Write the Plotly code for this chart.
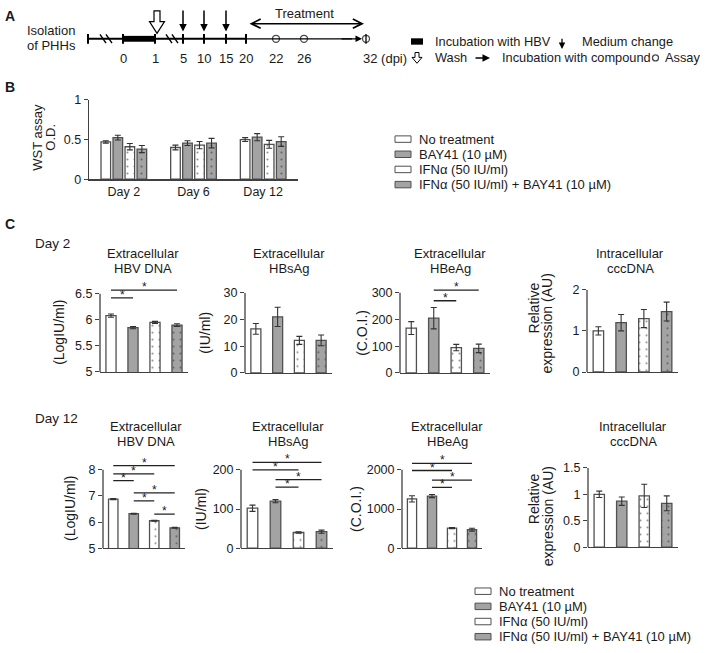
import plotly.graph_objects as go

W, H = 709, 653

# ----------------------------- data -----------------------------
treatments = ["No treatment", "BAY41 (10 µM)", "IFNα (50 IU/ml)",
              "IFNα (50 IU/ml) + BAY41 (10 µM)"]
treatment_fill = ["#ffffff", "#a3a3a3", "#ffffff", "#a3a3a3"]
treatment_dots = [False, False, True, True]

timeline_labels = ["0", "1", "5", "10", "15", "20", "22", "26", "32 (dpi)"]

# Panel B: WST assay (O.D.)
wst_days = ["Day 2", "Day 6", "Day 12"]
wst_no_treatment = [0.47, 0.40, 0.50]
wst_bay41 = [0.525, 0.455, 0.53]
wst_ifn = [0.41, 0.43, 0.44]
wst_ifn_bay41 = [0.38, 0.455, 0.475]
wst_no_treatment_err = [0.015, 0.03, 0.025]
wst_bay41_err = [0.03, 0.03, 0.045]
wst_ifn_err = [0.04, 0.045, 0.05]
wst_ifn_bay41_err = [0.045, 0.06, 0.06]

# Panel C, Day 2
d2_dna = [6.08, 5.85, 5.95, 5.90]
d2_dna_err = [0.03, 0.02, 0.02, 0.025]
d2_dna_sig = [(0, 1, 6.42), (0, 3, 6.57)]
d2_hbsag = [16.5, 21.0, 12.2, 12.2]
d2_hbsag_err = [2.0, 3.6, 1.5, 2.0]
d2_hbsag_sig = []
d2_hbeag = [168, 205, 95, 92]
d2_hbeag_err = [24, 40, 12, 16]
d2_hbeag_sig = [(1, 2, 270), (1, 3, 310)]
d2_ccc = [1.0, 1.2, 1.3, 1.47]
d2_ccc_err = [0.1, 0.2, 0.22, 0.23]
d2_ccc_sig = []

# Panel C, Day 12
d12_dna = [6.88, 6.32, 6.05, 5.78]
d12_dna_err = [0.02, 0.015, 0.02, 0.02]
d12_dna_sig = [(0, 3, 8.16), (0, 2, 7.85), (0, 1, 7.59),
               (1, 3, 7.12), (1, 2, 6.81), (2, 3, 6.30)]
d12_hbsag = [102, 120, 40, 42]
d12_hbsag_err = [8, 4, 2, 4]
d12_hbsag_sig = [(0, 3, 219), (0, 2, 200), (1, 3, 175), (1, 2, 156)]
d12_hbeag = [1260, 1330, 510, 470]
d12_hbeag_err = [80, 40, 15, 40]
d12_hbeag_sig = [(0, 3, 2165), (0, 2, 1983), (1, 3, 1736), (1, 2, 1553)]
d12_ccc = [1.0, 0.87, 0.97, 0.83]
d12_ccc_err = [0.06, 0.08, 0.22, 0.14]
d12_ccc_sig = []

# ----------------------------- style -----------------------------
FONT = "Liberation Sans, Arial, sans-serif"
TXT = "#1a1a1a"
AXC = "#404040"
EDGE = "#505050"

shapes, anns, traces = [], [], []
dot_x, dot_y = [], []


def text_px(x, y, t, size=13, xa="center", ya="middle", angle=0, bold=False):
    anns.append(dict(x=x / W, y=1 - y / H, xref="paper", yref="paper",
                     text=f"<b>{t}</b>" if bold else t, showarrow=False,
                     xanchor=xa, yanchor=ya, textangle=angle,
                     font=dict(family=FONT, size=size, color=TXT)))


# schematic overlay axes (x10/y10) in pixel units
def sline(x0, y0, x1, y1, w=2.0, color="black"):
    shapes.append(dict(type="line", xref="x10", yref="y10", x0=x0, y0=y0,
                       x1=x1, y1=y1, line=dict(color=color, width=w)))


def srect(x0, y0, x1, y1, fill, lc="black", lw=1.0):
    shapes.append(dict(type="rect", xref="x10", yref="y10", x0=x0, y0=y0,
                       x1=x1, y1=y1, fillcolor=fill,
                       line=dict(color=lc, width=lw)))


def spath(path, fill="white", lw=1.2):
    shapes.append(dict(type="path", xref="x10", yref="y10", path=path,
                       fillcolor=fill, line=dict(color="black", width=lw)))


def sarrow(xt, yt, xh, yh, head=2, w=1.5, side="end", size=1.0):
    anns.append(dict(x=xh, y=yh, ax=xt, ay=yt, xref="x10", yref="y10",
                     axref="x10", ayref="y10", text="", showarrow=True,
                     arrowhead=head, arrowsize=size, arrowwidth=w,
                     arrowcolor="black", arrowside=side, startarrowhead=head,
                     startarrowsize=size))


def stext(x, y, t, size=13, xa="center"):
    anns.append(dict(x=x, y=y, xref="x10", yref="y10", text=t,
                     showarrow=False, xanchor=xa, yanchor="middle",
                     font=dict(family=FONT, size=size, color=TXT)))


def bar_marker(i):
    return dict(color=treatment_fill[i], line=dict(color=EDGE, width=1.3),
                pattern=dict(shape="." if treatment_dots[i] else "",
                             fgcolor="#222222", size=7, solidity=0.07,
                             fillmode="overlay"))


layout = dict(width=W, height=H, margin=dict(l=0, r=0, t=0, b=0),
              paper_bgcolor="white", plot_bgcolor="rgba(0,0,0,0)",
              barmode="group", bargap=0.31, bargroupgap=0.2,
              showlegend=False, font=dict(family=FONT, color=TXT))

# ----------------------------- panel A -----------------------------
text_px(3, 9, "A", size=14, xa="left", bold=True)
TY = 32.5
tick_px = [123, 155, 183, 204, 226, 246, 276, 304, 366]
sline(88, TY, 246, TY, 2.0)
sline(246, TY, 352, TY, 1.3)
sarrow(340, TY, 362, TY, head=2, w=1.3)
for x in [88] + tick_px[:6]:
    sline(x, 27.5, x, 37.5, 2.0)
srect(123, 29.5, 155, 35.5, "black", lw=0)
for c in (106, 172):
    for d in (-3, 3):
        sline(c + d - 3, 28, c + d + 3, 37, 1.4)
sline(366, 27.5, 366, 37.5, 1.3)
for lab, x in zip(timeline_labels[:-1], tick_px[:-1]):
    stext(x, 53, lab)
stext(361, 53, timeline_labels[-1], xa="left")
for x in (183, 204, 226):
    sarrow(x, 2, x, 25, head=2, w=1.5)
spath("M154,4 L160,4 L160,15 L164.5,15 L157,27 L149.5,15 L154,15 Z")
sarrow(248, 17, 364, 17, head=5, w=1.5, side="end+start", size=1.2)
stext(304, 6.5, "Treatment")
stext(51, 24, "Isolation")
stext(51, 39, "of PHHs")
# legend of A
srect(411, 32, 423, 38.5, "black", lw=0)
stext(433, 35, "Incubation with HBV", size=12.8, xa="left")
sarrow(562, 31, 562, 43, head=2, w=1.3)
stext(580, 35, "Medium change", size=12.8, xa="left")
spath("M415,46.5 L419,46.5 L419,51.5 L422,51.5 L417,57.5 L412,51.5 L415,51.5 Z", lw=1.0)
stext(433, 52, "Wash", size=12.8, xa="left")
sarrow(474, 52, 490, 52, head=2, w=1.5)
stext(500, 52, "Incubation with compound", size=12.8, xa="left")
stext(663, 52, "Assay", size=12.8, xa="left")
circ_x = tick_px[6:] + [655.5]
circ_y = [TY, TY, TY, 52]
circ_size = [7, 7, 7, 6]

# ----------------------------- panel B -----------------------------
text_px(3, 82, "B", size=14, xa="left", bold=True)
wst_series = [(wst_no_treatment, wst_no_treatment_err),
              (wst_bay41, wst_bay41_err),
              (wst_ifn, wst_ifn_err),
              (wst_ifn_bay41, wst_ifn_bay41_err)]
for i, (vals, errs) in enumerate(wst_series):
    traces.append(go.Bar(x=wst_days, y=vals, name=treatments[i],
                         marker=bar_marker(i), xaxis="x", yaxis="y",
                         error_y=dict(type="data", array=errs, color="#333",
                                      thickness=1.1, width=3),
                         showlegend=False))
layout["xaxis"] = dict(domain=[89 / W, 298 / W], anchor="y", showline=True,
                       linecolor=AXC, linewidth=1.3, ticks="", showgrid=False,
                       zeroline=False, tickfont=dict(size=12.5, color=TXT),
                       fixedrange=True)
layout["yaxis"] = dict(domain=[1 - 176 / H, 1 - 95 / H], anchor="x",
                       range=[0, 1], tickvals=[0, 0.5, 1], ticktext=["0", "0.5", "1"],
                       showline=True, linecolor=AXC, linewidth=1.3,
                       ticks="outside", ticklen=4, tickcolor=AXC,
                       showgrid=False, zeroline=False,
                       tickfont=dict(size=12.5, color=TXT), fixedrange=True)
text_px(37.5, 133, "WST assay", angle=-90)
text_px(50.5, 133, "O.D.", angle=-90)


def legend_block(xs, rows):
    for i, t in enumerate(treatments):
        y = rows[i]
        srect(xs, y - 3.3, xs + 16, y + 3.3, treatment_fill[i], lc=EDGE, lw=1)
        if treatment_dots[i]:
            for dx, dy in ((4, -1.3), (8.5, 1.3), (13, -1.3)):
                dot_x.append(xs + dx)
                dot_y.append(y + dy)
        stext(xs + 22, y, t, size=13, xa="left")


legend_block(395, [135, 150.5, 166, 181.5])

# ----------------------------- panel C -----------------------------
text_px(3, 222, "C", size=14, xa="left", bold=True)
text_px(33, 242, "Day 2", size=13.5, xa="left")
text_px(33, 421, "Day 12", size=13.5, xa="left")

panels = [
    (d2_dna, d2_dna_err, d2_dna_sig, [5, 5.5, 6, 6.5], ["5", "5.5", "6", "6.5"],
     ["Extracellular", "HBV DNA"], ["(LogIU/ml)"]),
    (d2_hbsag, d2_hbsag_err, d2_hbsag_sig, [0, 10, 20, 30], ["0", "10", "20", "30"],
     ["Extracellular", "HBsAg"], ["(IU/ml)"]),
    (d2_hbeag, d2_hbeag_err, d2_hbeag_sig, [0, 100, 200, 300], ["0", "100", "200", "300"],
     ["Extracellular", "HBeAg"], ["(C.O.I.)"]),
    (d2_ccc, d2_ccc_err, d2_ccc_sig, [0, 1, 2], ["0", "1", "2"],
     ["Intracellular", "cccDNA"], ["Relative", "expression (AU)"]),
    (d12_dna, d12_dna_err, d12_dna_sig, [5, 6, 7, 8], ["5", "6", "7", "8"],
     ["Extracellular", "HBV DNA"], ["(LogIU/ml)"]),
    (d12_hbsag, d12_hbsag_err, d12_hbsag_sig, [0, 100, 200], ["0", "100", "200"],
     ["Extracellular", "HBsAg"], ["(IU/ml)"]),
    (d12_hbeag, d12_hbeag_err, d12_hbeag_sig, [0, 1000, 2000], ["0", "1000", "2000"],
     ["Extracellular", "HBeAg"], ["(C.O.I.)"]),
    (d12_ccc, d12_ccc_err, d12_ccc_sig, [0, 0.5, 1, 1.5], ["0", "0.5", "1", "1.5"],
     ["Intracellular", "cccDNA"], ["Relative", "expression (AU)"]),
]
# pixel placement: x-left, x-right, y of bottom tick, y of top tick,
# title centre x, title line ys, y-title xs, y-title ys
placement = [
    (100, 188, 373, 293, 143, (252, 267), (59,), (333,)),
    (245, 332, 374, 292, 289, (252, 267), (205,), (333,)),
    (400, 490, 374, 292, 450, (252, 267), (362,), (333,)),
    (587, 678, 373, 289, 630, (252, 267), (534, 547.5), (308, 324)),
    (103, 185, 553, 473, 146, (429, 444), (70,), (513,)),
    (241, 333, 553, 473, 288, (429, 444), (201,), (513,)),
    (402, 482, 553, 473, 447, (429, 444), (356,), (513,)),
    (588, 678, 552, 471, 633, (429, 444), (534, 547.5), (503, 521)),
]

for k, (spec, pos) in enumerate(zip(panels, placement)):
    n = k + 2
    vals, errs, sig, tv, tt, title, ytitle = spec
    xl, xr, yb, yt, tcx, tys, ytxs, ytys = pos
    scale = (yb - yt) / (tv[-1] - tv[0])
    top_val = tv[-1]
    if sig:
        top_val = max(top_val, max(s[2] for s in sig) + 3 / scale)
    top_px = yb - (top_val - tv[0]) * scale
    xa, ya = f"x{n}", f"y{n}"
    for i in range(4):
        traces.append(go.Bar(
            x=[i], y=[vals[i]], name=treatments[i], marker=bar_marker(i),
            width=0.46, offsetgroup=f"g{n}", xaxis=xa, yaxis=ya,
            error_y=dict(type="data", array=[errs[i]], color="#333",
                         thickness=1.1, width=3),
            showlegend=False))
    layout[f"xaxis{n}"] = dict(domain=[xl / W, xr / W], anchor=ya,
                               range=[-0.5, 3.5], showline=True, linecolor=AXC,
                               linewidth=1.3, ticks="", showticklabels=False,
                               showgrid=False, zeroline=False, fixedrange=True)
    layout[f"yaxis{n}"] = dict(domain=[1 - yb / H, 1 - top_px / H], anchor=xa,
                               range=[tv[0], top_val], tickvals=tv, ticktext=tt,
                               showline=False, ticks="outside", ticklen=4,
                               tickcolor=AXC, showgrid=False, zeroline=False,
                               tickfont=dict(size=12.5, color=TXT),
                               fixedrange=True)
    shapes.append(dict(type="line", xref=f"{xa} domain", yref=ya, x0=0, x1=0,
                       y0=tv[0], y1=tv[-1], line=dict(color=AXC, width=1.3)))
    for (i, j, h) in sig:
        shapes.append(dict(type="line", xref=xa, yref=ya, x0=i, x1=j, y0=h,
                           y1=h, line=dict(color="#222", width=1.3)))
        anns.append(dict(x=(i + j) / 2, y=h, xref=xa, yref=ya, text="*",
                         showarrow=False, yanchor="bottom", yshift=-6,
                         font=dict(family=FONT, size=12, color=TXT)))
    for line_t, ty in zip(title, tys):
        text_px(tcx, ty, line_t, size=13)
    for yt_txt, yx, yy in zip(ytitle, ytxs, ytys):
        text_px(yx, yy, yt_txt, size=14, angle=-90)

legend_block(475, [597, 612.5, 628, 643.5])

# overlay schematic marks (circles and legend dots)
traces.append(go.Scatter(x=circ_x, y=circ_y, mode="markers", xaxis="x10",
                         yaxis="y10", hoverinfo="skip", showlegend=False,
                         marker=dict(symbol="circle", size=circ_size, color="white",
                                     line=dict(color="black", width=1.3))))
traces.append(go.Scatter(x=dot_x, y=dot_y, mode="markers", xaxis="x10",
                         yaxis="y10", hoverinfo="skip", showlegend=False,
                         marker=dict(symbol="circle", size=2, color="#222")))
layout["xaxis10"] = dict(domain=[0, 1], range=[0, W], visible=False,
                         anchor="y10", fixedrange=True)
layout["yaxis10"] = dict(domain=[0, 1], range=[H, 0], visible=False,
                         anchor="x10", fixedrange=True)

layout["shapes"] = shapes
layout["annotations"] = anns

fig = go.Figure(data=traces, layout=layout)
fig.write_html("out.html", config={"staticPlot": True},
               post_script="document.body.style.margin='0px';"
                           "document.body.style.overflow='hidden';")
